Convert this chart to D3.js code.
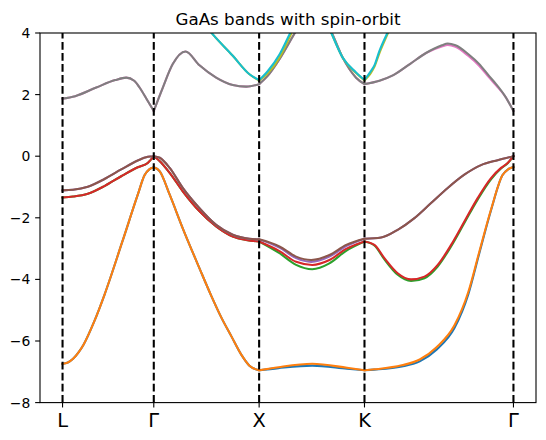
<!DOCTYPE html>
<html>
<head>
<meta charset="utf-8">
<script src="https://cdn.jsdelivr.net/npm/d3@7"></script>
<style>
  body { margin: 0; background: #fff; }
  text { font-family: "DejaVu Sans", sans-serif; fill: #000; }
</style>
</head>
<body>
<script>
"use strict";

// k-path positions (units of 2pi/a) and labels
var kTicks = [0, 0.866, 1.866, 2.866, 4.280];
var kLabels = ["L", "Γ", "X", "K", "Γ"];
var eTicks = [-8, -6, -4, -2, 0, 2, 4];

// bands, [k, E in eV]
var band0 = [[0,-6.74],[0.05,-6.70],[0.10,-6.58],[0.15,-6.38],[0.199,-6.12],[0.299,-5.38],[0.398,-4.50],[0.565,-2.80],[0.714,-1.25],[0.778,-0.62],[0.826,-0.42],[0.866,-0.36],
  [0.923,-0.49],[1.017,-1.25],[1.141,-2.34],[1.300,-3.64],[1.414,-4.55],[1.509,-5.25],[1.603,-5.85],[1.698,-6.45],[1.774,-6.8],[1.866,-6.95],
  [2.05,-6.88],[2.37,-6.80],[2.70,-6.90],[2.866,-6.95],
  [2.96,-6.93],[3.22,-6.83],[3.39,-6.66],[3.55,-6.28],[3.72,-5.58],[3.852,-4.48],[3.956,-3.15],[4.07,-1.72],[4.175,-0.62],[4.232,-0.42],[4.28,-0.35]];
var band1 = [[0,-6.74],[0.05,-6.70],[0.10,-6.58],[0.15,-6.38],[0.199,-6.12],[0.299,-5.38],[0.398,-4.50],[0.565,-2.80],[0.714,-1.25],[0.778,-0.62],[0.826,-0.42],[0.866,-0.36],
  [0.923,-0.49],[1.017,-1.25],[1.141,-2.34],[1.300,-3.64],[1.414,-4.55],[1.509,-5.25],[1.603,-5.85],[1.698,-6.45],[1.774,-6.8],[1.866,-6.95],
  [2.05,-6.85],[2.37,-6.74],[2.70,-6.87],[2.866,-6.95],
  [2.96,-6.92],[3.22,-6.79],[3.39,-6.60],[3.55,-6.20],[3.72,-5.49],[3.852,-4.40],[3.956,-3.10],[4.07,-1.70],[4.175,-0.62],[4.232,-0.42],[4.28,-0.35]];
var band2 = [[0,-1.34],[0.10,-1.31],[0.240,-1.22],[0.398,-0.97],[0.557,-0.65],[0.714,-0.36],[0.809,-0.22],[0.866,0],
  [0.923,-0.16],[1.017,-0.54],[1.141,-1.14],[1.300,-1.79],[1.458,-2.28],[1.616,-2.61],[1.743,-2.72],[1.866,-2.77],
  [2.059,-3.15],[2.217,-3.53],[2.37,-3.67],[2.533,-3.48],[2.692,-3.07],[2.866,-2.77],
  [2.96,-2.90],[3.055,-3.35],[3.181,-3.85],[3.308,-4.05],[3.435,-3.96],[3.561,-3.58],[3.688,-2.93],[3.814,-2.17],[3.940,-1.41],[4.067,-0.75],[4.162,-0.40],[4.225,-0.23],[4.28,0]];
var band3 = [[0,-1.34],[0.10,-1.31],[0.240,-1.22],[0.398,-0.97],[0.557,-0.65],[0.714,-0.36],[0.809,-0.22],[0.866,0],
  [0.923,-0.16],[1.017,-0.54],[1.141,-1.14],[1.300,-1.79],[1.458,-2.28],[1.616,-2.61],[1.743,-2.72],[1.866,-2.77],
  [2.059,-3.08],[2.217,-3.43],[2.37,-3.53],[2.533,-3.37],[2.692,-3.01],[2.866,-2.77],
  [2.96,-2.88],[3.055,-3.31],[3.181,-3.80],[3.308,-4.00],[3.435,-3.91],[3.561,-3.53],[3.688,-2.88],[3.814,-2.12],[3.940,-1.36],[4.067,-0.71],[4.162,-0.38],[4.225,-0.22],[4.28,0]];
var band4 = [[0,-1.11],[0.10,-1.09],[0.240,-0.99],[0.398,-0.74],[0.557,-0.43],[0.714,-0.14],[0.809,-0.02],[0.866,0],
  [0.923,-0.05],[1.017,-0.38],[1.141,-1.03],[1.300,-1.69],[1.458,-2.23],[1.616,-2.55],[1.774,-2.68],[1.866,-2.70],
  [2.059,-2.97],[2.217,-3.31],[2.36,-3.43],[2.533,-3.26],[2.692,-2.92],[2.866,-2.68],
  [3.024,-2.64],[3.181,-2.39],[3.340,-2.01],[3.498,-1.52],[3.656,-1.03],[3.814,-0.60],[3.972,-0.29],[4.130,-0.13],[4.28,0]];
var band5 = [[0,-1.11],[0.10,-1.09],[0.240,-0.99],[0.398,-0.74],[0.557,-0.43],[0.714,-0.14],[0.809,-0.02],[0.866,0],
  [0.923,-0.05],[1.017,-0.38],[1.141,-1.03],[1.300,-1.69],[1.458,-2.23],[1.616,-2.55],[1.774,-2.68],[1.866,-2.70],
  [2.059,-2.93],[2.217,-3.26],[2.36,-3.37],[2.533,-3.21],[2.692,-2.88],[2.866,-2.68],
  [3.024,-2.64],[3.181,-2.39],[3.340,-2.01],[3.498,-1.52],[3.656,-1.03],[3.814,-0.60],[3.972,-0.29],[4.130,-0.13],[4.28,0]];
var band6 = [[0,1.87],[0.12,1.95],[0.32,2.23],[0.50,2.47],[0.604,2.55],[0.68,2.45],[0.731,2.23],[0.809,1.79],[0.866,1.47],
  [0.952,2.23],[1.046,2.99],[1.167,3.40],[1.30,2.95],[1.458,2.55],[1.616,2.31],[1.743,2.26],[1.866,2.34],
  [1.945,2.60],[2.059,3.15],[2.154,3.70],[2.22,4.1],[2.29,4.6],[2.36,4.9],[2.45,4.6],[2.549,4.05],[2.659,3.2],[2.786,2.55],[2.866,2.34],
  [3.008,2.45],[3.14,2.63],[3.30,3.0],[3.45,3.35],[3.60,3.56],[3.656,3.61],[3.73,3.55],[3.85,3.26],[3.956,2.93],[4.05,2.55],[4.115,2.30],[4.20,1.95],[4.28,1.47]];
var band7 = [[0,1.87],[0.12,1.95],[0.32,2.23],[0.50,2.47],[0.604,2.55],[0.68,2.45],[0.731,2.23],[0.809,1.79],[0.866,1.47],
  [0.952,2.23],[1.046,2.99],[1.167,3.40],[1.30,2.95],[1.458,2.55],[1.616,2.31],[1.743,2.26],[1.866,2.34],
  [1.945,2.60],[2.059,3.15],[2.154,3.70],[2.22,4.1],[2.29,4.6],[2.36,4.9],[2.45,4.6],[2.549,4.05],[2.659,3.2],[2.786,2.55],[2.866,2.34],
  [3.008,2.45],[3.14,2.63],[3.30,3.0],[3.45,3.35],[3.60,3.60],[3.656,3.66],[3.73,3.60],[3.85,3.32],[3.956,2.99],[4.05,2.6],[4.115,2.34],[4.20,1.95],[4.28,1.47]];
var band8 = [[1.30,4.5],[1.41,4.02],[1.616,3.26],[1.774,2.66],[1.866,2.45],
  [1.945,2.68],[2.059,3.20],[2.154,3.85],[2.22,4.35],[2.29,4.8],[2.36,5.0],[2.45,4.8],[2.549,4.02],[2.659,3.2],[2.786,2.70],[2.866,2.46],
  [2.93,2.72],[2.96,2.90],[3.008,3.35],[3.083,3.95],[3.14,4.4]];
var band9 = [[1.30,4.5],[1.41,4.02],[1.616,3.26],[1.774,2.66],[1.866,2.47],
  [1.945,2.75],[2.059,3.30],[2.154,3.95],[2.22,4.4],[2.29,4.8],[2.36,5.0],[2.45,4.8],[2.549,4.02],[2.659,3.2],[2.786,2.72],[2.866,2.48],
  [2.93,2.78],[2.96,2.95],[3.008,3.42],[3.083,4.0],[3.14,4.4]];

var bands = [band0, band1, band2, band3, band4, band5, band6, band7, band8, band9];
var colors = ["#1f77b4","#ff7f0e","#2ca02c","#d62728","#9467bd","#8c564b","#e377c2","#7f7f7f","#bcbd22","#17becf"];

function bandPlot(){
  var width = 546,
      height = 440,
      left = 40, right = 536, top = 33, bottom = 402.6;

  var svg = d3.select("body")
              .append("svg")
              .attr("width", width)
              .attr("height", height);

  var kMax = kTicks[kTicks.length - 1];
  var x = d3.scaleLinear()
      .domain([-0.05 * kMax, 1.05 * kMax])
      .range([left, right]);
  var y = d3.scaleLinear()
      .domain([-8, 4])
      .range([bottom, top]);

  svg.append("clipPath").attr("id", "clip")
     .append("rect")
       .attr("x", left).attr("y", top)
       .attr("width", right - left).attr("height", bottom - top);

  var line = d3.line()
      .x(function(d){ return x(d[0]); })
      .y(function(d){ return y(d[1]); })
      .curve(d3.curveMonotoneX);

  // split each band at the symmetry points so kinks stay sharp
  function segPath(pts){
    var d = "";
    for (var i = 0; i < kTicks.length - 1; i++){
      var a = kTicks[i], b = kTicks[i + 1];
      var s = pts.filter(function(p){ return p[0] >= a - 1e-6 && p[0] <= b + 1e-6; });
      if (s.length > 1) d += line(s);
    }
    return d;
  }

  svg.append("g")
     .attr("clip-path", "url(#clip)")
     .selectAll("path")
     .data(bands)
     .enter().append("path")
       .attr("d", segPath)
       .attr("fill", "none")
       .attr("stroke", function(d, i){ return colors[i]; })
       .attr("stroke-width", 2.08)
       .attr("stroke-linejoin", "round")
       .attr("stroke-linecap", "square");

  // dashed lines at the symmetry points
  svg.append("g")
     .selectAll("line")
     .data(kTicks)
     .enter().append("line")
       .attr("x1", function(d){ return x(d); })
       .attr("x2", function(d){ return x(d); })
       .attr("y1", y(-8))
       .attr("y2", y(4))
       .attr("stroke", "#000")
       .attr("stroke-width", 2.08)
       .attr("stroke-dasharray", "7.7,3.33");

  // frame
  svg.append("rect")
     .attr("x", left).attr("y", top)
     .attr("width", right - left).attr("height", bottom - top)
     .attr("fill", "none")
     .attr("stroke", "#000")
     .attr("stroke-width", 1.1);

  var tl = 4.86;
  var yt = svg.append("g").selectAll("g").data(eTicks).enter().append("g");
  yt.append("line")
     .attr("x1", left).attr("x2", left - tl)
     .attr("y1", function(d){ return y(d); })
     .attr("y2", function(d){ return y(d); })
     .attr("stroke", "#000").attr("stroke-width", 1.1);
  yt.append("text")
     .attr("x", left - tl - 4.86)
     .attr("y", function(d){ return y(d); })
     .attr("dy", "0.36em")
     .attr("text-anchor", "end")
     .style("font-size", "13.9px")
     .text(function(d){ return d < 0 ? "\u2212" + Math.abs(d) : d; });

  var xt = svg.append("g").selectAll("g").data(kTicks).enter().append("g");
  xt.append("line")
     .attr("x1", function(d){ return x(d); })
     .attr("x2", function(d){ return x(d); })
     .attr("y1", bottom).attr("y2", bottom + tl)
     .attr("stroke", "#000").attr("stroke-width", 1.1);
  xt.append("text")
     .attr("x", function(d){ return x(d); })
     .attr("y", bottom + tl + 4.86 + 14.2)
     .attr("text-anchor", "middle")
     .style("font-size", "19.4px")
     .text(function(d, i){ return kLabels[i]; });

  svg.append("text")
     .attr("x", (left + right) / 2)
     .attr("y", top - 8.3)
     .attr("text-anchor", "middle")
     .style("font-size", "16.7px")
     .text("GaAs bands with spin-orbit");
}

bandPlot();
</script>
</body>
</html>
